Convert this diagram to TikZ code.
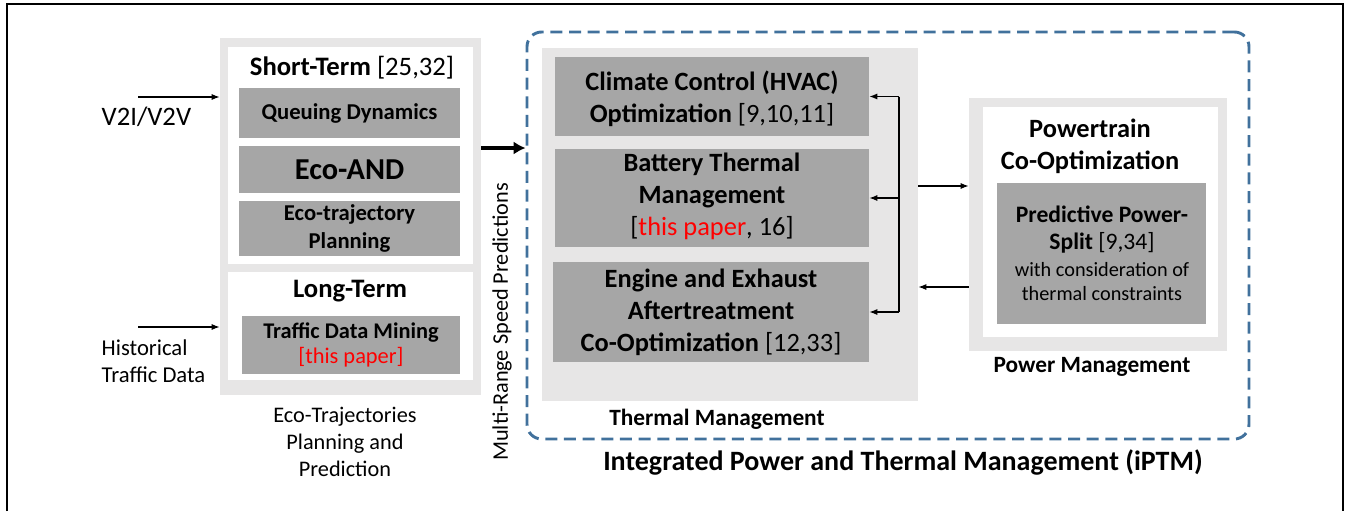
\documentclass[tikz,border=0pt]{standalone}
\usepackage{fontspec}
\setmainfont{Carlito}
\usetikzlibrary{positioning,fit,arrows.meta}
\definecolor{panelgray}{HTML}{E7E6E6}
\definecolor{boxgray}{HTML}{A6A6A6}
\definecolor{iptmblue}{HTML}{41719C}
\definecolor{paperred}{HTML}{FF0000}
\newcommand{\fs}[2]{\fontsize{#1}{#2}\selectfont}
\begin{document}
\begin{tikzpicture}[x=0.75pt, y=-0.75pt, >={Latex[length=6pt,width=4.5pt]},
    panel/.style={fill=panelgray, inner sep=0pt},
    whitebox/.style={fill=white, inner sep=0pt},
    darkbox/.style={fill=boxgray, inner sep=0pt},
    boxtext/.style={align=center, inner sep=0pt, font=\bfseries\fs{17}{20.5}},
    bigtext/.style={align=center, inner sep=0pt, font=\bfseries\fs{19.8}{24}},
    flow/.style={->, line width=0.9pt},
    bigflow/.style={-{Latex[length=9pt,width=10pt]}, line width=3pt},
    title/.style={font=\bfseries\fs{20}{24}, align=center},
    caption/.style={font=\fs{16.7}{20.5}, align=center}]
    \useasboundingbox (0,0) rectangle (1346,511);

    % Rahmen
    \draw[line width=2.2pt] (7,511) -- (7,4) -- (1343,4) -- (1343,511);

    % Eco-Trajektorien (links)
    \node[panel, fit={(220,38) (481,395)}] (leftgrp) {};
    \node[whitebox, fit={(228,47) (473,264)}] (shortterm) {};
    \node[whitebox, fit={(228,272) (473,380)}] (longterm) {};
    \node[title] (shorttitle) at (352,68) {Short-Term \mdseries[25,32]};
    \node[darkbox, fit={(239,88) (460,138)}] (queue) {};
    \node[darkbox, fit={(239,146) (460,193)}] (ecoand) {};
    \node[darkbox, fit={(239,201) (460,256)}] (ecotraj) {};
    \node[title] (longtitle) at (350,291) {Long-Term};
    \node[darkbox, fit={(242,316) (460,374)}] (mining) {};
    \node[boxtext] at (queue.center) {Queuing Dynamics};
    \node[boxtext, font=\bfseries\fs{22.8}{24}] at (ecoand.center) {Eco-AND};
    \node[boxtext] at (ecotraj.center) {Eco-trajectory\\Planning};
    \node[boxtext, font=\bfseries\fs{16.8}{19}] at (mining.center) {Traffic Data Mining\\\mdseries\textcolor{paperred}{[this paper]}};
    \node[caption] (leftcap) at (345,442) {Eco-Trajectories\\Planning and\\Prediction};

    % Eingaenge
    \node[font=\fs{20}{22}, anchor=west] (v2i) at (97,117) {V2I/V2V};
    \node[caption, font=\fs{17}{20.5}, align=left, anchor=west] (hist) at (97,361) {Historical\\Traffic Data};
    \coordinate (v2iin) at (138,97);
    \coordinate (histin) at (138,327);
    \draw[flow] (v2iin) -- (v2iin -| leftgrp.west);
    \draw[flow] (histin) -- (histin -| leftgrp.west);

    % iPTM
    \node[draw=iptmblue, line width=2.2pt, dash pattern=on 9pt off 5pt, rounded corners=11pt,
        inner sep=0pt, fit={(527,32) (1249,439)}] (iptm) {};
    \node[font=\bfseries\fs{21}{24}] (iptmlabel) at (903,462) {Integrated Power and Thermal Management (iPTM)};
    \coordinate (mrsp) at (481,148);
    \draw[bigflow] (mrsp) -- (mrsp -| iptm.west);
    \node[caption, rotate=90] (mrsplabel) at (502,322) {Multi-Range Speed Predictions};

    % Thermal Management
    \node[panel, fit={(542,48) (918,401)}] (thermal) {};
    \node[darkbox, fit={(555,57) (869,136)}] (hvac) {};
    \node[darkbox, fit={(555,149) (869,247)}] (battery) {};
    \node[darkbox, fit={(553,262) (869,362)}] (engine) {};
    \node[bigtext] at ([yshift=-2pt]hvac.center) {Climate Control (HVAC)\\Optimization \mdseries[9,10,11]};
    \node[bigtext] at ([yshift=1.5pt]battery.center) {Battery Thermal\\Management\\\mdseries[\textcolor{paperred}{this paper}, 16]};
    \node[bigtext] at (engine.center) {Engine and Exhaust\\Aftertreatment\\Co-Optimization \mdseries[12,33]};
    \node[font=\bfseries\fs{17.5}{20}] (thermallabel) at (717,419) {Thermal Management};
    \coordinate (bus) at (899,0);
    \draw[line width=0.9pt] (bus |- hvac.east) -- (bus |- engine.east);
    \foreach \tbox in {hvac,battery,engine}
        \draw[flow] (bus |- \tbox.east) -- (\tbox.east);

    % Power Management
    \node[panel, fit={(969,98) (1227,351)}] (powergrp) {};
    \node[whitebox, fit={(983,107) (1218,337)}] (powerwhite) {};
    \node[bigtext] (powertitle) at (1090,146) {Powertrain\\Co-Optimization};
    \node[darkbox, fit={(997,183) (1206,324)}] (split) {};
    \node[align=center, font=\bfseries\fs{17.7}{20.25}] (splittext) at (1102,230) {Predictive Power-\\Split \mdseries[9,34]};
    \node[align=center, font=\fs{15.2}{18}] (splitnote) at (1102,282) {with consideration of\\thermal constraints};
    \node[font=\bfseries\fs{17.5}{20}] (powerlabel) at (1092,367) {Power Management};
    \draw[flow] (thermal.east |- 0,186) -- (powergrp.west |- 0,186);
    \draw[flow] (powergrp.west |- 0,287) -- (thermal.east |- 0,287);
\end{tikzpicture}
\end{document}
